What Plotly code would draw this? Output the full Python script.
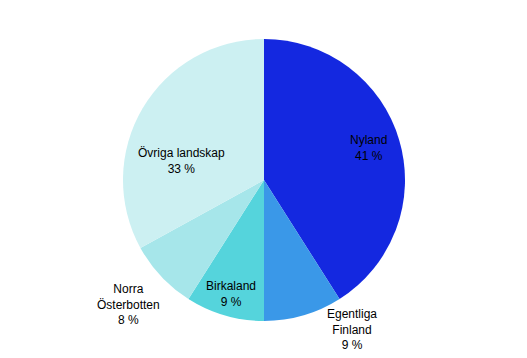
import plotly.graph_objects as go

labels = ["Nyland", "Egentliga Finland", "Birkaland", "Norra Österbotten", "Övriga landskap"]
values = [41, 9, 9, 8, 33]
label_text = ["Nyland<br>41 %", "Egentliga<br>Finland<br>9 %", "Birkaland<br>9 %",
              "Norra<br>Österbotten<br>8 %", "Övriga landskap<br>33 %"]
colors = ["#1428e0", "#3a98e8", "#55d4dc", "#a6e6ea", "#ccf0f2"]
# label centres in pixels (x from left, y from top)
label_px = [(368, 148), (352, 329), (231, 294), (128, 304), (181, 161)]

W, H = 527, 358
cx, cy, r = 264, 180, 141

fig = go.Figure(go.Pie(
    labels=labels, values=values, sort=False, direction="clockwise", rotation=0,
    marker=dict(colors=colors, line=dict(width=0)),
    textinfo="none", hoverinfo="label+percent", showlegend=False,
    domain=dict(x=[(cx - r) / W, (cx + r) / W], y=[(H - cy - r) / H, (H - cy + r) / H]),
))

for t, (px, py) in zip(label_text, label_px):
    fig.add_annotation(x=px / W, y=1 - py / H, xref="paper", yref="paper",
                       text=t, showarrow=False, xanchor="center", yanchor="middle",
                       font=dict(family="Liberation Sans, Arial", size=12, color="#000000"))

fig.update_layout(width=W, height=H, margin=dict(l=0, r=0, t=0, b=0),
                  paper_bgcolor="white", plot_bgcolor="white")
fig.write_html("out.html")
